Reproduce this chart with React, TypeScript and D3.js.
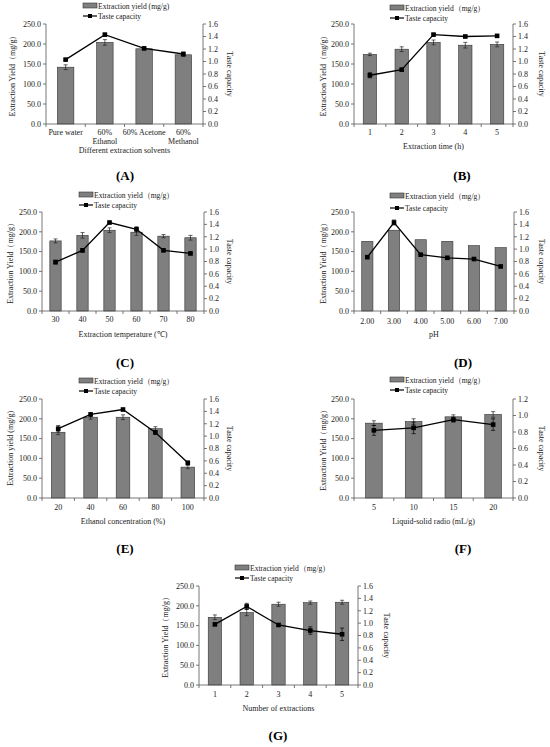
import React from 'react';
import * as d3 from 'd3';

// ---- data ----
const solvents = ['Pure water', '60%\nEthanol', '60% Acetone', '60%\nMethanol'];
const solventYield = [142, 204, 188, 173];
const solventYieldErr = [6, 7, 2, 4];
const solventTaste = [1.03, 1.43, 1.21, 1.12];
const solventTasteErr = [0.01, 0.02, 0.02, 0.03];

const times = ['1', '2', '3', '4', '5'];
const timeYield = [174, 187, 204, 197, 199];
const timeYieldErr = [3, 6, 6, 7, 6];
const timeTaste = [0.78, 0.87, 1.43, 1.4, 1.41];
const timeTasteErr = [0.04, 0.02, 0.02, 0.02, 0.01];

const temps = ['30', '40', '50', '60', '70', '80'];
const tempYield = [177, 191, 204, 199, 189, 185];
const tempYieldErr = [5, 7, 6, 8, 4, 6];
const tempTaste = [0.79, 0.98, 1.43, 1.32, 0.98, 0.93];
const tempTasteErr = [0.03, 0.03, 0.02, 0.04, 0.02, 0.02];

const phs = ['2.00', '3.00', '4.00', '5.00', '6.00', '7.00'];
const phYield = [176, 204, 180, 176, 165, 160];
const phYieldErr = [0, 0, 0, 0, 0, 0];
const phTaste = [0.87, 1.43, 0.91, 0.86, 0.84, 0.72];
const phTasteErr = [0.01, 0.04, 0.01, 0.01, 0.01, 0.01];

const ethanols = ['20', '40', '60', '80', '100'];
const ethYield = [166, 204, 204, 175, 78];
const ethYieldErr = [6, 5, 6, 5, 4];
const ethTaste = [1.12, 1.35, 1.43, 1.06, 0.57];
const ethTasteErr = [0.05, 0.03, 0.02, 0.03, 0.02];

const ratios = ['5', '10', '15', '20'];
const ratioYield = [189, 193, 205, 211];
const ratioYieldErr = [6, 7, 5, 7];
const ratioTaste = [0.82, 0.85, 0.95, 0.89];
const ratioTasteErr = [0.06, 0.07, 0.03, 0.07];

const counts = ['1', '2', '3', '4', '5'];
const countYield = [171, 183, 204, 208, 209];
const countYieldErr = [6, 8, 5, 4, 5];
const countTaste = [0.98, 1.27, 0.97, 0.88, 0.82];
const countTasteErr = [0.02, 0.05, 0.02, 0.06, 0.1];

const leftTicks = [0, 50, 100, 150, 200, 250];

const FONT = '"Liberation Serif", "Times New Roman", serif';
const BAR = '#7f7f7f';

type PanelProps = {
    left: number; right: number; top: number; bottom: number;
    cats: string[]; yields: number[]; yieldErr: number[];
    taste: number[]; tasteErr: number[];
    rightMax: number;
    legendText: string; legendX: number; legendY: [number, number];
    leftTitle: string; leftTitleX: number; rightTitleX: number;
    labelY: number; xTitle: string; xTitleY: number;
    tag: string; tagX: number; tagY: number;
};

function Panel(p: PanelProps) {
    const x = d3.scaleBand<string>().domain(p.cats).range([p.left, p.right]).paddingInner(0.58).paddingOuter(0.29);
    const band = (p.right - p.left) / p.cats.length;
    const yL = d3.scaleLinear().domain([0, 250]).range([p.bottom, p.top]);
    const yR = d3.scaleLinear().domain([0, p.rightMax]).range([p.bottom, p.top]);
    const rightTicks = d3.range(0, p.rightMax + 1e-9, 0.2);
    const cx = (c: string) => (x(c) as number) + x.bandwidth() / 2;
    const line = d3.line<number>().x((_, i) => cx(p.cats[i])).y((d) => yR(d));
    const midY = (p.top + p.bottom) / 2;
    const midX = (p.left + p.right) / 2;
    const fs = 8;

    return (
        <g fontFamily={FONT} fill="#222">
            {/* legend */}
            <rect x={p.legendX} y={p.legendY[0] - 3} width={14} height={5} fill={BAR} stroke="#333" strokeWidth={0.6} />
            <text x={p.legendX + 15} y={p.legendY[0] + 2.5} fontSize={7.6}>{p.legendText}</text>
            <line x1={p.legendX} x2={p.legendX + 14} y1={p.legendY[1]} y2={p.legendY[1]} stroke="#000" strokeWidth={1.2} />
            <rect x={p.legendX + 5} y={p.legendY[1] - 2} width={4} height={4} fill="#000" />
            <text x={p.legendX + 15} y={p.legendY[1] + 2.5} fontSize={7.6}>Taste capacity</text>

            {/* bars */}
            {p.yields.map((v, i) => (
                <rect key={'b' + i} x={x(p.cats[i])} y={yL(v)} width={x.bandwidth()} height={yL(0) - yL(v)}
                    fill={BAR} stroke="#333" strokeWidth={0.6} />
            ))}
            {p.yields.map((v, i) => p.yieldErr[i] > 0 && (
                <g key={'be' + i} stroke="#222" strokeWidth={0.7}>
                    <line x1={cx(p.cats[i])} x2={cx(p.cats[i])} y1={yL(v - p.yieldErr[i])} y2={yL(v + p.yieldErr[i])} />
                    <line x1={cx(p.cats[i]) - 2} x2={cx(p.cats[i]) + 2} y1={yL(v - p.yieldErr[i])} y2={yL(v - p.yieldErr[i])} />
                    <line x1={cx(p.cats[i]) - 2} x2={cx(p.cats[i]) + 2} y1={yL(v + p.yieldErr[i])} y2={yL(v + p.yieldErr[i])} />
                </g>
            ))}

            {/* taste line */}
            <path d={line(p.taste) ?? ''} fill="none" stroke="#000" strokeWidth={1.3} />
            {p.taste.map((v, i) => (
                <g key={'t' + i}>
                    <g stroke="#000" strokeWidth={0.7}>
                        <line x1={cx(p.cats[i])} x2={cx(p.cats[i])} y1={yR(v - p.tasteErr[i])} y2={yR(v + p.tasteErr[i])} />
                        <line x1={cx(p.cats[i]) - 2} x2={cx(p.cats[i]) + 2} y1={yR(v - p.tasteErr[i])} y2={yR(v - p.tasteErr[i])} />
                        <line x1={cx(p.cats[i]) - 2} x2={cx(p.cats[i]) + 2} y1={yR(v + p.tasteErr[i])} y2={yR(v + p.tasteErr[i])} />
                    </g>
                    <rect x={cx(p.cats[i]) - 2.3} y={yR(v) - 2.3} width={4.6} height={4.6} fill="#000" />
                </g>
            ))}

            {/* axes */}
            <g stroke="#555" strokeWidth={0.8}>
                <line x1={p.left} x2={p.left} y1={p.top} y2={p.bottom} />
                <line x1={p.right} x2={p.right} y1={p.top} y2={p.bottom} />
                <line x1={p.left} x2={p.right} y1={p.bottom} y2={p.bottom} />
                {leftTicks.map((t) => <line key={'lt' + t} x1={p.left - 3} x2={p.left} y1={yL(t)} y2={yL(t)} />)}
                {rightTicks.map((t) => <line key={'rt' + t} x1={p.right} x2={p.right + 3} y1={yR(t)} y2={yR(t)} />)}
                {d3.range(p.cats.length + 1).map((i) => (
                    <line key={'xt' + i} x1={p.left + i * band} x2={p.left + i * band} y1={p.bottom} y2={p.bottom + 3} />
                ))}
            </g>
            {leftTicks.map((t) => (
                <text key={'ll' + t} x={p.left - 5} y={yL(t) + 2.8} fontSize={fs} textAnchor="end">{t.toFixed(1)}</text>
            ))}
            {rightTicks.map((t) => (
                <text key={'rl' + t} x={p.right + 5} y={yR(t) + 2.8} fontSize={fs}>{t.toFixed(1)}</text>
            ))}
            {p.cats.map((c) => (
                <text key={'xl' + c} x={cx(c)} y={p.labelY} fontSize={fs} textAnchor="middle">
                    {c.split('\n').map((s, j) => <tspan key={j} x={cx(c)} dy={j === 0 ? 0 : 9}>{s}</tspan>)}
                </text>
            ))}
            <text x={midX} y={p.xTitleY} fontSize={fs} textAnchor="middle">{p.xTitle}</text>
            <text transform={`translate(${p.leftTitleX},${midY}) rotate(-90)`} fontSize={fs} textAnchor="middle" dy="0.35em">{p.leftTitle}</text>
            <text transform={`translate(${p.rightTitleX},${midY}) rotate(90)`} fontSize={fs} textAnchor="middle" dy="0.35em">Taste capacity</text>
            <text x={p.tagX} y={p.tagY} fontSize={13} fontWeight="bold" textAnchor="middle" fill="#000">{p.tag}</text>
        </g>
    );
}

export default function App() {
    const fw = 'Extraction yield（mg/g）';
    const FW = 'Extraction Yield（mg/g）';
    return (
        <svg width={550} height={747} style={{ position: 'absolute', left: 0, top: 0, background: '#fff' }}>
            <Panel left={46} right={203} top={24} bottom={124} cats={solvents} yields={solventYield} yieldErr={solventYieldErr}
                taste={solventTaste} tasteErr={solventTasteErr} rightMax={1.6}
                legendText="Extraction yield (mg/g)" legendX={83} legendY={[6, 16]}
                leftTitle={FW} leftTitleX={12} rightTitleX={230} labelY={135} xTitle="Different extraction solvents" xTitleY={153}
                tag="(A)" tagX={125} tagY={180} />
            <Panel left={354} right={513} top={24} bottom={124} cats={times} yields={timeYield} yieldErr={timeYieldErr}
                taste={timeTaste} tasteErr={timeTasteErr} rightMax={1.6}
                legendText={fw} legendX={390} legendY={[8, 18]}
                leftTitle={FW} leftTitleX={323} rightTitleX={542} labelY={135} xTitle="Extraction time (h)" xTitleY={149}
                tag="(B)" tagX={462} tagY={180} />
            <Panel left={42} right={204} top={212} bottom={311} cats={temps} yields={tempYield} yieldErr={tempYieldErr}
                taste={tempTaste} tasteErr={tempTasteErr} rightMax={1.6}
                legendText={fw} legendX={79} legendY={[195, 205]}
                leftTitle={FW} leftTitleX={10} rightTitleX={230} labelY={322} xTitle="Extraction temperature (℃)" xTitleY={337}
                tag="(C)" tagX={125} tagY={367} />
            <Panel left={354} right={514} top={212} bottom={311} cats={phs} yields={phYield} yieldErr={phYieldErr}
                taste={phTaste} tasteErr={phTasteErr} rightMax={1.6}
                legendText={fw} legendX={390} legendY={[196, 208]}
                leftTitle={FW} leftTitleX={323} rightTitleX={542} labelY={324} xTitle="pH" xTitleY={337}
                tag="(D)" tagX={463} tagY={367} />
            <Panel left={42} right={204} top={399} bottom={498} cats={ethanols} yields={ethYield} yieldErr={ethYieldErr}
                taste={ethTaste} tasteErr={ethTasteErr} rightMax={1.6}
                legendText={fw} legendX={79} legendY={[381, 391]}
                leftTitle="Extraction yield (mg/g)" leftTitleX={10} rightTitleX={230} labelY={510} xTitle="Ethanol concentration (%)" xTitleY={524}
                tag="(E)" tagX={125} tagY={553} />
            <Panel left={354} right={513} top={399} bottom={498} cats={ratios} yields={ratioYield} yieldErr={ratioYieldErr}
                taste={ratioTaste} tasteErr={ratioTasteErr} rightMax={1.2}
                legendText={fw} legendX={390} legendY={[380, 390]}
                leftTitle={FW} leftTitleX={323} rightTitleX={542} labelY={510} xTitle="Liquid-solid radio (mL/g)" xTitleY={524}
                tag="(F)" tagX={463} tagY={553} />
            <Panel left={199} right={358} top={586} bottom={685} cats={counts} yields={countYield} yieldErr={countYieldErr}
                taste={countTaste} tasteErr={countTasteErr} rightMax={1.6}
                legendText={fw} legendX={235} legendY={[568, 578]}
                leftTitle={FW} leftTitleX={165} rightTitleX={387} labelY={697} xTitle="Number of extractions" xTitleY={711}
                tag="(G)" tagX={278} tagY={740} />
        </svg>
    );
}
